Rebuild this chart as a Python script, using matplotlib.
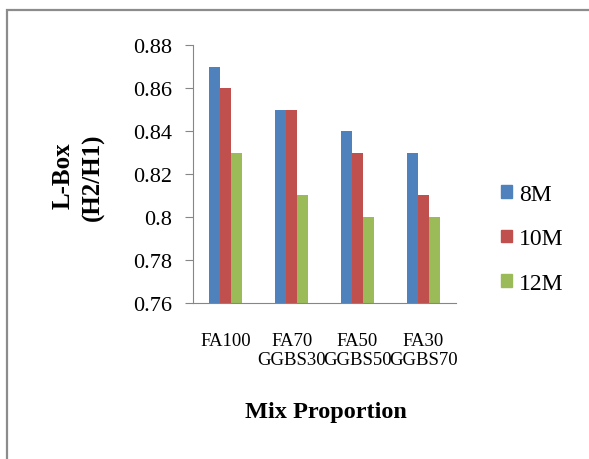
import numpy as np
import matplotlib
matplotlib.use("Agg")
import matplotlib.pyplot as plt
from matplotlib.patches import Rectangle, Patch

# data
mixes = ["FA100", "FA70\nGGBS30", "FA50\nGGBS50", "FA30\nGGBS70"]
series = ["8M", "10M", "12M"]
vals_8m = [0.87, 0.85, 0.84, 0.83]
vals_10m = [0.86, 0.85, 0.83, 0.81]
vals_12m = [0.83, 0.81, 0.80, 0.80]
colors = ["#4F81BD", "#C0504D", "#9BBB59"]

plt.rcParams['font.family'] = ['Liberation Serif', 'DejaVu Serif']

W, H = 589, 460
fig = plt.figure(figsize=(W / 100, H / 100), dpi=100)

# outer chart frame
fig.patches.append(Rectangle((7 / W, -0.1), 1.2, (H - 11) / H + 0.1, transform=fig.transFigure,
                             fill=False, edgecolor="#8c8c8c", linewidth=1.6))

ax = fig.add_axes([193 / W, 1 - 304 / H, (456 - 193) / W, (304 - 46) / H])

x = np.arange(len(mixes))
bw = 0.167
for i, (vals, c) in enumerate(zip([vals_8m, vals_10m, vals_12m], colors)):
    ax.bar(x + (i - 1) * bw, np.array(vals) - 0.76, bw, bottom=0.76, color=c, label=series[i])

ax.set_xlim(-0.5, 3.5)
ax.set_ylim(0.76, 0.88)
ax.set_yticks([0.76, 0.78, 0.8, 0.82, 0.84, 0.86, 0.88])
ax.set_yticklabels(["0.76", "0.78", "0.8", "0.82", "0.84", "0.86", "0.88"], fontsize=16)
ax.set_xticks(x)
ax.set_xticklabels(mixes, fontsize=13.5, linespacing=1.15)
ax.tick_params(axis='x', length=0, pad=21)
ax.tick_params(axis='y', length=6, color="#868686", pad=9)
for s in ["top", "right"]:
    ax.spines[s].set_visible(False)
for s in ["left", "bottom"]:
    ax.spines[s].set_color("#868686")

fig.text(63 / W, 1 - 176 / H, "L-Box", rotation=90, fontsize=18, fontweight='bold',
         ha='center', va='center')
fig.text(93 / W, 1 - 177 / H, "(H2/H1)", rotation=90, fontsize=18, fontweight='bold',
         ha='center', va='center')
fig.text(326 / W, 1 - 413 / H, "Mix Proportion", fontsize=17.5, fontweight='bold',
         ha='center', va='center')

handles = [Patch(color=c) for c in colors]
fig.legend(handles, series, loc='center left', bbox_to_anchor=(480 / W, 1 - 240 / H),
           frameon=False, fontsize=17, handlelength=0.45, handleheight=0.45,
           handletextpad=0.3, labelspacing=1.0)

fig.savefig("out.png", dpi=100)
